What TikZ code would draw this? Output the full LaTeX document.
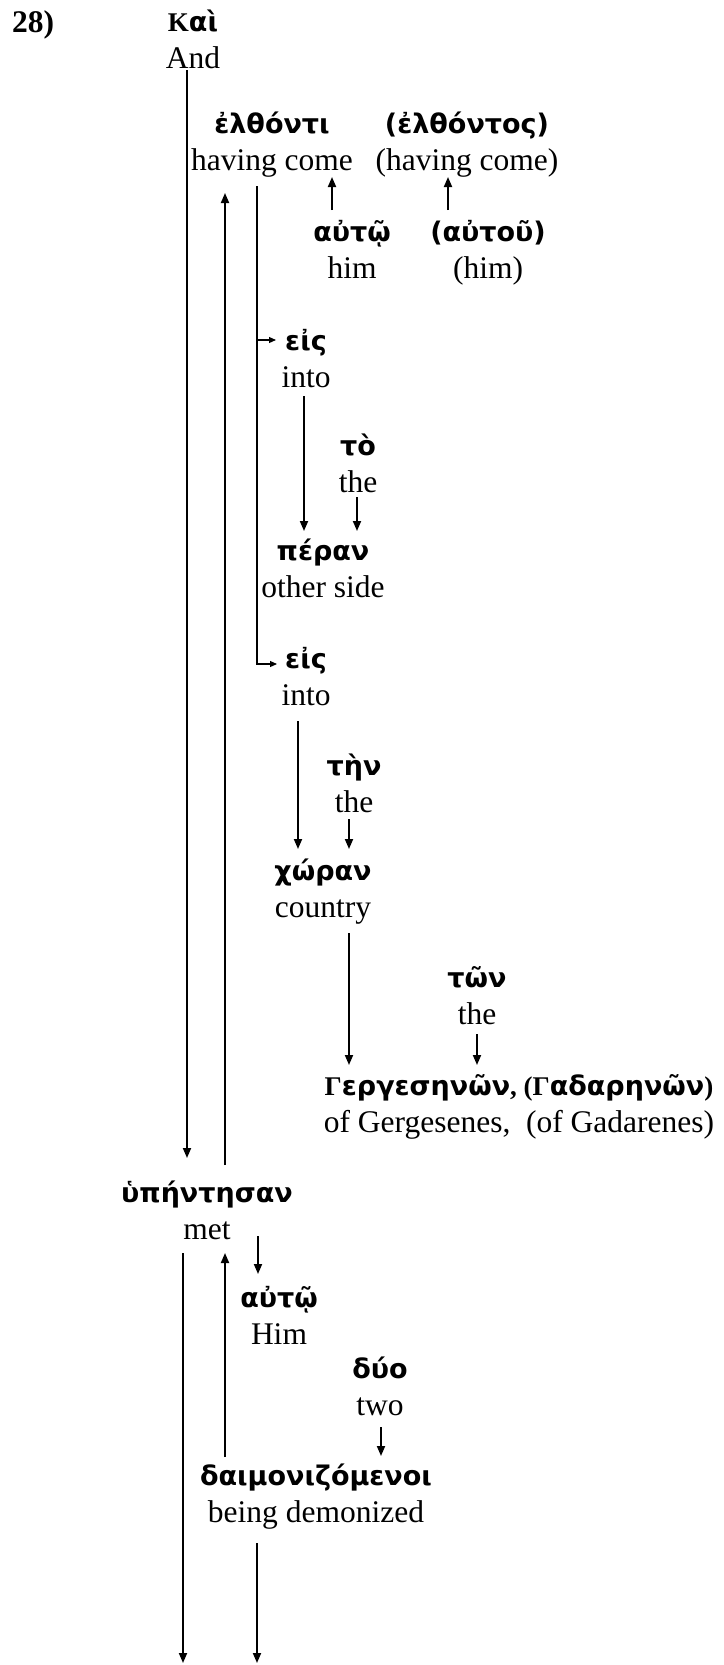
\documentclass[tikz,border=0pt]{standalone}
\usepackage{fontspec}
\setmainfont{Liberation Serif}
\newfontfamily\gkfont{DejaVu Sans}
\usetikzlibrary{arrows.meta,calc}
\newcommand{\gkw}[1]{{\gkfont\bfseries\fontsize{27}{37}\selectfont #1}}
\newcommand{\enw}[1]{{\fontsize{31.5}{37}\selectfont #1}}
\newcommand{\sr}[1]{{\rmfamily #1}}
\newcommand{\wpair}[2]{\fontsize{31.5}{37}\selectfont\begin{tabular}[t]{@{}c@{}}\gkw{#1}\\\enw{#2}\end{tabular}}
\tikzset{
  word/.style={inner sep=0pt, outer sep=0pt, anchor=base},
  arr/.style={line width=1.8pt, -{Triangle[length=10pt,width=8pt]}},
  thinarr/.style={line width=1.1pt, -{Triangle[length=7pt,width=6pt]}},
}
\begin{document}
\begin{tikzpicture}[x=1pt,y=-1pt]
\useasboundingbox (0,0) rectangle (723,1665);
\node[inner sep=0pt, anchor=base west] (num) at (12,32) {\fontsize{31.5}{37}\selectfont\bfseries 28)};
\node[word] (kai) at (193,31) {\wpair{\sr{Κ}αὶ}{And}};
\node[word] (elth) at (272,133) {\wpair{ἐλθόντι}{having come}};
\node[word] (elthos) at (467,133) {\wpair{(ἐλθόντος)}{(having come)}};
\node[word] (auto1) at (352,241) {\wpair{αὐτῷ}{him}};
\node[word] (autou) at (488,241) {\wpair{(αὐτοῦ)}{(him)}};
\node[word] (eis1) at (306,350) {\wpair{εἰς}{into}};
\node[word] (to) at (358,455) {\wpair{τὸ}{the}};
\node[word] (peran) at (323,560) {\wpair{πέραν}{other side}};
\node[word] (eis2) at (306,668) {\wpair{εἰς}{into}};
\node[word] (ten) at (354,775) {\wpair{τὴν}{the}};
\node[word] (choran) at (323,880) {\wpair{χώραν}{country}};
\node[word] (ton) at (477,987) {\wpair{τῶν}{the}};
\node[word] (gerg) at (519,1095) {\wpair{\sr{Γ}εργεσηνῶν\sr{, (Γ}αδαρηνῶν\sr{)}}{of Gergesenes,\ \ (of Gadarenes)}};
\node[word] (hyp) at (207,1202) {\wpair{ὑπήντησαν}{met}};
\node[word] (auto2) at (279,1307) {\wpair{αὐτῷ}{Him}};
\node[word] (duo) at (380,1378) {\wpair{δύο}{two}};
\node[word] (daim) at (316,1485) {\wpair{δαιμονιζόμενοι}{being demonized}};
\coordinate (bot1) at (183,1663);
\coordinate (bot2) at (257,1663);
% connectors
\draw[arr] ($(kai.base)+(-6,39)$) -- ($(hyp.base)+(-20,-44)$);
\draw[arr] ($(hyp.base)+(18,-37)$) -- ($(elth.base)+(-47,60)$);
\draw[thinarr] ($(elth.base)+(-15,53)$) |- ($(eis1.base)+(-30,-10)$);
\draw[thinarr] ($(elth.base)+(-15,53)$) |- ($(eis2.base)+(-29,-4)$);
\draw[arr] ($(auto1.base)+(-20,-31)$) -- ($(elth.base)+(60,44)$);
\draw[arr] ($(autou.base)+(-40,-31)$) -- ($(elthos.base)+(-19,44)$);
\draw[arr] ($(eis1.base)+(-2,46)$) -- ($(peran.base)+(-19,-29)$);
\draw[arr] ($(to.base)+(-1,42)$) -- ($(peran.base)+(34,-29)$);
\draw[arr] ($(eis2.base)+(-8,53)$) -- ($(choran.base)+(-25,-31)$);
\draw[arr] ($(ten.base)+(-5,44)$) -- ($(choran.base)+(26,-31)$);
\draw[arr] ($(choran.base)+(26,53)$) -- ($(gerg.base)+(-170,-30)$);
\draw[arr] ($(ton.base)+(0,47)$) -- ($(gerg.base)+(-42,-30)$);
\draw[arr] ($(hyp.base)+(-24,51)$) -- (bot1);
\draw[arr] ($(daim.base)+(-91,-28)$) -- ($(hyp.base)+(18,51)$);
\draw[arr] ($(hyp.base)+(51,34)$) -- ($(auto2.base)+(-21,-33)$);
\draw[arr] ($(duo.base)+(1,49)$) -- ($(daim.base)+(65,-29)$);
\draw[arr] ($(daim.base)+(-59,58)$) -- (bot2);
\end{tikzpicture}
\end{document}
